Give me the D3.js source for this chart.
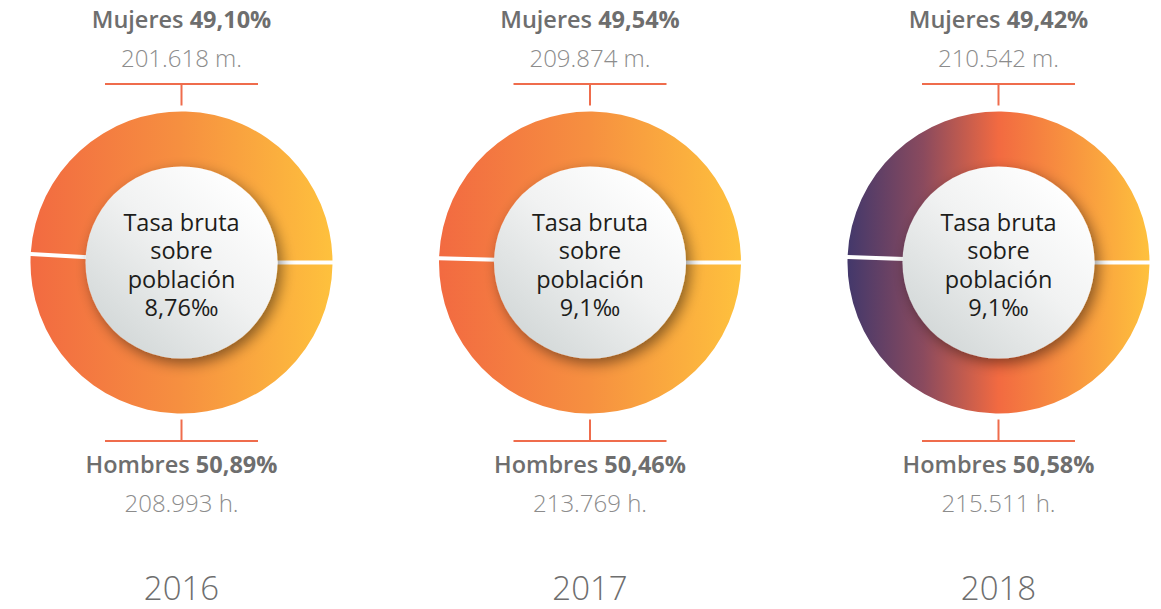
<!DOCTYPE html>
<html>
<head>
<meta charset="utf-8">
<script src="https://cdn.jsdelivr.net/npm/d3@7"></script>
<style>
  body { margin: 0; background: #fff; }
  svg { display: block; font-family: "Open Sans", sans-serif; }
</style>
</head>
<body>
<svg width="1161" height="609"></svg>
<script>
var years = ["2016", "2017", "2018"];
var mujeresPct = [49.10, 49.54, 49.42];
var hombresPct = [50.89, 50.46, 50.58];
var mujeresAbs = ["201.618", "209.874", "210.542"];
var hombresAbs = ["208.993", "213.769", "215.511"];
var tasa = ["8,76", "9,1", "9,1"];
var gradientKind = ["warm", "warm", "purple"];

var svg = d3.select("svg");
var outerR = 151, innerR = 96, cy = 262.5;

var x = d3.scalePoint().domain(years).range([181.5, 998.5]);

var defs = svg.append("defs");

var warm = defs.append("linearGradient")
  .attr("id", "warm").attr("gradientUnits", "userSpaceOnUse")
  .attr("x1", -outerR).attr("x2", outerR).attr("y1", 0).attr("y2", 0);
warm.append("stop").attr("offset", "0%").attr("stop-color", "#f26a41");
warm.append("stop").attr("offset", "50%").attr("stop-color", "#f69040");
warm.append("stop").attr("offset", "100%").attr("stop-color", "#fec13d");

var purple = defs.append("linearGradient")
  .attr("id", "purple").attr("gradientUnits", "userSpaceOnUse")
  .attr("x1", -outerR).attr("x2", outerR).attr("y1", 0).attr("y2", 0);
purple.append("stop").attr("offset", "0%").attr("stop-color", "#43386b");
purple.append("stop").attr("offset", "25%").attr("stop-color", "#8a4a5e");
purple.append("stop").attr("offset", "50%").attr("stop-color", "#f26a41");
purple.append("stop").attr("offset", "100%").attr("stop-color", "#fec13d");

var disc = defs.append("linearGradient")
  .attr("id", "disc")
  .attr("x1", "0.85").attr("y1", "0.1").attr("x2", "0.15").attr("y2", "0.9");
disc.append("stop").attr("offset", "0%").attr("stop-color", "#ffffff");
disc.append("stop").attr("offset", "45%").attr("stop-color", "#f1f2f2");
disc.append("stop").attr("offset", "100%").attr("stop-color", "#d3d8d8");

var shadow = defs.append("filter").attr("id", "shadow")
  .attr("x", "-30%").attr("y", "-30%").attr("width", "160%").attr("height", "160%");
shadow.append("feDropShadow")
  .attr("dx", 4).attr("dy", 5).attr("stdDeviation", 7)
  .attr("flood-color", "#000").attr("flood-opacity", 0.45);

var pie = d3.pie().sort(null)
  .startAngle(Math.PI / 2).endAngle(Math.PI / 2 + 2 * Math.PI);

var arc = d3.arc().innerRadius(innerR - 2).outerRadius(outerR)
  .padAngle(0.04).padRadius(100);

var lineColor = "#ef6c4c";

years.forEach(function(year, i) {
  var g = svg.append("g").attr("transform", "translate(" + x(year) + "," + cy + ")");

  g.selectAll("path")
    .data(pie([hombresPct[i], mujeresPct[i]]))
    .enter().append("path")
    .attr("d", arc)
    .attr("fill", "url(#" + gradientKind[i] + ")");

  g.append("circle")
    .attr("r", innerR)
    .attr("fill", "url(#disc)")
    .attr("filter", "url(#shadow)");

  // centre label as one text block
  var lines = ["Tasa bruta", "sobre", "población", tasa[i] + "‰"];
  g.append("text")
    .attr("text-anchor", "middle")
    .attr("y", -32)
    .attr("font-size", 23.5)
    .attr("fill", "#1d1d1b")
    .selectAll("tspan")
    .data(lines)
    .enter().append("tspan")
    .attr("x", 0)
    .attr("dy", function(d, j) { return j === 0 ? 0 : 28.5; })
    .text(function(d) { return d; });

  // connectors
  g.append("line").attr("x1", -76.5).attr("x2", 76.5)
    .attr("y1", -178.5).attr("y2", -178.5)
    .attr("stroke", lineColor).attr("stroke-width", 2);
  g.append("line").attr("x1", 0).attr("x2", 0)
    .attr("y1", -178.5).attr("y2", -157)
    .attr("stroke", lineColor).attr("stroke-width", 2);
  g.append("line").attr("x1", -76.5).attr("x2", 76.5)
    .attr("y1", 178.5).attr("y2", 178.5)
    .attr("stroke", lineColor).attr("stroke-width", 2);
  g.append("line").attr("x1", 0).attr("x2", 0)
    .attr("y1", 157).attr("y2", 178.5)
    .attr("stroke", lineColor).attr("stroke-width", 2);

  // top labels
  var t1 = g.append("text").attr("text-anchor", "middle").attr("y", -234.5)
    .attr("font-size", 23.5).attr("fill", "#6e6e6e");
  t1.append("tspan").attr("font-weight", 600).text("Mujeres ");
  t1.append("tspan").attr("font-weight", 700)
    .text(d3.format(".2f")(mujeresPct[i]).replace(".", ",") + "%");
  g.append("text").attr("text-anchor", "middle").attr("y", -195.5)
    .attr("font-size", 24).attr("font-weight", 300).attr("fill", "#8c8c8c")
    .text(mujeresAbs[i] + " m.");

  // bottom labels
  var t2 = g.append("text").attr("text-anchor", "middle").attr("y", 210.5)
    .attr("font-size", 23.5).attr("fill", "#6e6e6e");
  t2.append("tspan").attr("font-weight", 600).text("Hombres ");
  t2.append("tspan").attr("font-weight", 700)
    .text(d3.format(".2f")(hombresPct[i]).replace(".", ",") + "%");
  g.append("text").attr("text-anchor", "middle").attr("y", 249.5)
    .attr("font-size", 24).attr("font-weight", 300).attr("fill", "#8c8c8c")
    .text(hombresAbs[i] + " h.");

  g.append("text").attr("text-anchor", "middle").attr("y", 337.5)
    .attr("font-size", 33).attr("font-weight", 300).attr("fill", "#6e6e6e")
    .text(year);
});
</script>
</body>
</html>
